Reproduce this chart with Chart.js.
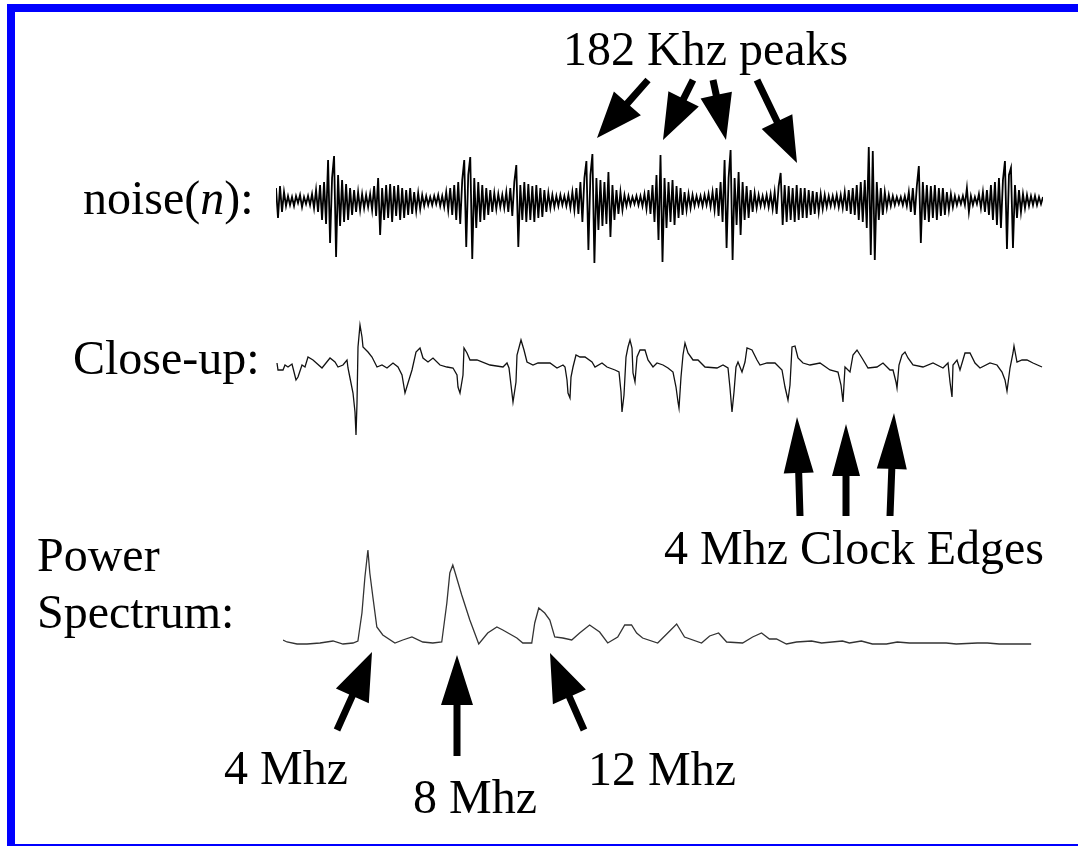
<!DOCTYPE html>
<html>
<head>
<meta charset="utf-8">
<title>noise(n) / close-up / power spectrum</title>
<script src="https://cdn.jsdelivr.net/npm/chart.js"></script>
<style>
  body { margin: 0; background: #fff; }
  #page { position: relative; width: 1078px; height: 846px; overflow: hidden; background: #fff; }
  .frame { position: absolute; background: #0000ff; }
  canvas { position: absolute; }
  #notes { position: absolute; left: 0; top: 0; pointer-events: none; }
  #notes text { font-family: "Liberation Serif", "DejaVu Serif", serif; font-size: 48px; fill: #000; }
</style>
</head>
<body>
<div id="page">
  <div class="frame" style="left:7px; top:4px; width:1071px; height:8px;"></div>
  <div class="frame" style="left:7px; top:4px; width:8px; height:842px;"></div>
  <div class="frame" style="left:7px; top:844px; width:1071px; height:2px;"></div>

  <canvas id="noiseChart" width="767" height="125" style="left:276px; top:145px;"></canvas>
  <canvas id="closeUpChart" width="767" height="120" style="left:276px; top:320px;"></canvas>
  <canvas id="spectrumChart" width="749" height="110" style="left:283px; top:540px;"></canvas>

  <svg id="notes" width="1078" height="846">
    <text x="563" y="65">182 Khz peaks</text>
    <text x="83" y="214">noise(<tspan font-style="italic">n</tspan>):</text>
    <text x="73" y="374">Close-up:</text>
    <text x="37" y="571">Power</text>
    <text x="37" y="628">Spectrum:</text>
    <text x="664" y="564">4 Mhz Clock Edges</text>
    <g id="peakNames"></g>
    <g id="arrows"></g>
  </svg>
</div>

<script>
// raw noise samples, 384 of them across the trace
const noiseLevels = [
    12, -18, 14, -12, 8, -6, 4, -5, 3, -6, 4, -3, 5, -7, 3, -4,
    4, -5, 6, -8, 10, -12, 15, -20, 18, -24, 40, -43, 22, 44, -57, 25,
    -26, 20, -22, 16, -20, 12, -15, 10, -12, 8, -10, 6, -8, 5, -7, 6,
    -10, 14, -16, 22, -35, 12, -20, 15, -18, 16, -22, 14, -16, 15, -20, 12,
    -18, 10, -15, 12, -14, 8, -11, 7, -9, 5, -6, 4, -5, 3, -5, 4,
    -4, 5, -6, 4, -7, 8, -10, 12, -15, 15, -20, 18, -24, 20, 40, -47,
    25, 43, -59, 22, -28, 18, -22, 15, -20, 12, -15, 10, -12, 7, -9, 6,
    -7, 5, -8, 8, -12, 12, -16, 18, 35, -47, 15, -20, 18, -22, 16, -20,
    14, -22, 15, -18, 12, -17, 10, -12, 7, -8, 5, -7, 4, -6, 5, -5,
    4, -6, 5, -8, 8, -10, 12, -14, 18, -22, 22, 39, -50, 25, 46, -63,
    22, -30, 20, -26, 18, -24, 28, -37, 15, -20, 10, -14, 8, -10, 5, -6,
    4, -5, 3, -4, 4, -5, 4, -6, 6, -9, 10, -14, 15, -22, 25, -40,
    45, -62, 22, -28, 18, -22, 20, -25, 14, -18, 12, -15, 8, -10, 6, -8,
    5, -6, 4, -5, 4, -6, 5, -5, 6, -7, 8, -10, 12, -16, 18, -22,
    40, -48, 22, 50, -60, 22, -25, 28, -35, 18, -20, 14, -18, 10, -12, 7,
    -8, 5, -6, 4, -6, 5, -7, 6, -9, 8, -14, 14, 27, -25, 15, -22,
    14, -20, 12, -22, 15, -20, 12, -18, 12, -18, 10, -15, 9, -14, 8, -12,
    6, -9, 5, -7, 4, -6, 4, -6, 5, -7, 5, -8, 8, -11, 10, -14,
    12, -15, 15, -20, 18, -22, 20, -28, 53, -55, 49, -60, 18, -20, 12, -15,
    8, -8, 5, -6, 4, -5, 3, -4, 3, -5, 4, -6, 8, -12, 12, -15,
    14, 34, -43, 18, -20, 15, -22, 14, -18, 15, -20, 12, -16, 12, -15, 8,
    -10, 6, -7, 4, -5, 3, -4, 4, -5, 12, -12, 4, -5, 3, -4, 6,
    -8, 8, -12, 10, -15, 15, -20, 18, -25, 22, -28, 20, 39, -49, 25, 32,
    -48, 15, -18, 10, -12, 6, -8, 5, -6, 4, -5, 4, -5, 3, -4, 3
];

// close-up of the same signal: time in ns, level in mV
const closeUpTimes = [
    5, 10, 35, 45, 60, 80, 85, 100, 110, 130,
    145, 160, 185, 230, 270, 295, 310, 335, 355, 360,
    370, 385, 395, 400, 405, 410, 420, 430, 435, 460,
    480, 505, 530, 555, 585, 610, 630, 645, 660, 680,
    700, 720, 735, 760, 785, 820, 855, 885, 905, 910,
    920, 935, 940, 955, 970, 1005, 1070, 1135, 1155, 1165,
    1175, 1185, 1200, 1205, 1225, 1240, 1255, 1285, 1310, 1330,
    1370, 1405, 1435, 1445, 1455, 1460, 1470, 1475, 1485, 1500,
    1520, 1545, 1580, 1595, 1630, 1655, 1695, 1715, 1725, 1730,
    1740, 1750, 1760, 1770, 1780, 1785, 1795, 1805, 1820, 1845,
    1860, 1885, 1905, 1935, 1960, 1985, 2000, 2010, 2015, 2025,
    2035, 2045, 2060, 2085, 2110, 2145, 2205, 2235, 2260, 2270,
    2280, 2290, 2300, 2310, 2330, 2345, 2355, 2380, 2405, 2420,
    2455, 2495, 2530, 2545, 2560, 2570, 2580, 2595, 2610, 2635,
    2670, 2720, 2770, 2810, 2825, 2835, 2845, 2870, 2885, 2905,
    2930, 2960, 3005, 3035, 3070, 3085, 3100, 3105, 3115, 3130,
    3145, 3160, 3185, 3235, 3285, 3335, 3360, 3370, 3380, 3385,
    3405, 3420, 3445, 3470, 3495, 3520, 3570, 3605, 3630, 3645,
    3655, 3670, 3685, 3690, 3705, 3730, 3755, 3785, 3830
];
const closeUpLevels = [
    2, -5, -5, 0, -2, 1, -3, -15, -12, 0,
    -2, 8, 5, -3, 7, 3, -2, 0, 5, -3,
    -13, -28, -47, -70, -38, 18, 40, 28, 18, 13,
    8, -2, 0, -3, 2, -2, -10, -28, -18, -5,
    13, 17, 7, 3, 7, 0, -2, -3, -10, -22,
    -28, -10, 17, 12, 5, 5, 0, -2, 2, -3,
    -20, -37, -17, 10, 25, 15, 3, 0, 2, 2,
    2, -3, 0, -2, -15, -28, -33, -12, -2, 10,
    8, 8, 3, -2, 2, -2, -5, -7, -27, -47,
    -30, 8, 18, 25, 17, -8, -17, 8, 15, 15,
    5, -2, 2, 0, -3, -7, -22, -37, -43, -12,
    10, 22, 12, 5, 5, -2, -3, 0, -3, -23,
    -47, -27, -2, 3, -7, 3, 17, 15, 5, 0,
    2, 2, -5, -22, -35, -20, 18, 19, 7, 2,
    0, 2, -5, -7, -20, -37, -2, -7, 10, 15,
    7, -3, -2, 2, -5, -5, -17, -23, 0, 10,
    13, 7, 0, -2, 2, -3, 2, -17, -32, 0,
    5, -5, 12, 12, 2, -3, 2, 0, -7, -15,
    -26, -3, 12, 19, 3, 5, 5, 2, -2
];

// power spectrum: frequency in MHz, power in arbitrary units
const spectrumFreqs = [
    0, 0.19, 0.66, 1.13, 1.74, 2.35, 2.82, 3.29, 3.52, 3.71,
    3.85, 3.99, 4.08, 4.23, 4.41, 4.69, 5.26, 5.63, 6.06, 6.57,
    7.04, 7.46, 7.70, 7.84, 7.98, 8.08, 8.40, 8.78, 9.20, 9.62,
    10.05, 10.33, 10.99, 11.27, 11.69, 11.83, 12.02, 12.30, 12.54, 12.77,
    13.15, 13.57, 13.94, 14.41, 14.88, 15.26, 15.73, 16.06, 16.38, 16.62,
    16.90, 17.61, 18.08, 18.50, 18.87, 19.67, 20.05, 20.47, 20.85, 21.60,
    22.07, 22.49, 22.86, 23.19, 23.66, 24.13, 24.84, 25.31, 26.29, 26.62,
    27.18, 27.70, 28.36, 28.87, 29.44, 30.38, 31.17, 31.64, 32.63, 33.10,
    33.66, 35.16
];
const spectrumPower = [
    4, 2, 0, 0, 1, 3, 0, 1, 3, 31,
    67, 94, 71, 46, 17, 9, 1, 4, 7, 2,
    1, 2, 41, 71, 79, 72, 49, 24, 0, 11,
    17, 14, 6, 1, 1, 21, 36, 31, 24, 7,
    6, 4, 11, 19, 12, 1, 7, 19, 19, 11,
    6, 1, 11, 20, 7, 1, 8, 11, 2, 1,
    7, 11, 5, 5, 0, 2, 3, 1, 3, 1,
    3, 0, 0, 2, 1, 1, 1, 0, 1, 1,
    0, 0
];

const peakNames = ['4 Mhz', '8 Mhz', '12 Mhz'];
const peakNamePos = [[224, 784], [413, 813], [588, 785]];

// arrows: [tailX, tailY, tipX, tipY, shaft, headLen, headWidth]
const arrowList = [
    [648, 80, 597, 138, 7, 46, 36],
    [693, 80, 663, 140, 7, 46, 34],
    [713, 80, 726, 140, 7, 46, 32],
    [757, 80, 797, 163, 7, 46, 34],
    [800, 516, 797, 417, 7, 56, 30],
    [846, 516, 846, 424, 7, 52, 28],
    [890, 516, 894, 413, 7, 56, 30],
    [337, 730, 372, 652, 7, 48, 36],
    [457, 756, 457, 655, 7, 50, 32],
    [584, 730, 550, 653, 7, 48, 36]
];

function drawTrace(canvasId, points, xMin, xMax, yMin, yMax, color, width) {
    return new Chart(document.getElementById(canvasId), {
        type: 'line',
        data: {
            datasets: [{
                data: points,
                borderColor: color,
                borderWidth: width,
                pointRadius: 0,
                tension: 0,
                fill: false,
                clip: false
            }]
        },
        options: {
            responsive: false,
            animation: false,
            events: [],
            layout: { padding: 0 },
            scales: {
                x: { type: 'linear', min: xMin, max: xMax, display: false },
                y: { min: yMin, max: yMax, display: false }
            },
            plugins: {
                legend: { display: false },
                tooltip: { enabled: false }
            }
        }
    });
}

drawTrace('noiseChart',
    noiseLevels.map((v, i) => ({ x: i, y: v })),
    0, noiseLevels.length - 1, -70, 55, '#000', 1.8);

drawTrace('closeUpChart',
    closeUpTimes.map((t, i) => ({ x: t, y: closeUpLevels[i] })),
    0, 3835, -75, 45, '#111', 1.3);

drawTrace('spectrumChart',
    spectrumFreqs.map((f, i) => ({ x: f, y: spectrumPower[i] })),
    0, 35.2, -6, 104, '#333', 1.3);

// peak captions under the spectrum
const svgNS = 'http://www.w3.org/2000/svg';
const nameGroup = document.getElementById('peakNames');
peakNames.forEach((name, i) => {
    const t = document.createElementNS(svgNS, 'text');
    t.setAttribute('x', peakNamePos[i][0]);
    t.setAttribute('y', peakNamePos[i][1]);
    t.textContent = name;
    nameGroup.appendChild(t);
});

// filled block arrows
function arrowPath(x0, y0, x1, y1, shaft, headLen, headWidth) {
    const len = Math.hypot(x1 - x0, y1 - y0);
    const ux = (x1 - x0) / len, uy = (y1 - y0) / len;
    const nx = -uy, ny = ux;
    const bx = x1 - ux * headLen, by = y1 - uy * headLen;
    const s = shaft / 2, h = headWidth / 2;
    const pts = [
        [x0 + nx * s, y0 + ny * s],
        [bx + nx * s, by + ny * s],
        [bx + nx * h, by + ny * h],
        [x1, y1],
        [bx - nx * h, by - ny * h],
        [bx - nx * s, by - ny * s],
        [x0 - nx * s, y0 - ny * s]
    ];
    return pts.map(p => p[0].toFixed(1) + ',' + p[1].toFixed(1)).join(' ');
}

const arrowGroup = document.getElementById('arrows');
arrowList.forEach(a => {
    const poly = document.createElementNS(svgNS, 'polygon');
    poly.setAttribute('points', arrowPath(...a));
    poly.setAttribute('fill', '#000');
    arrowGroup.appendChild(poly);
});
</script>
</body>
</html>
